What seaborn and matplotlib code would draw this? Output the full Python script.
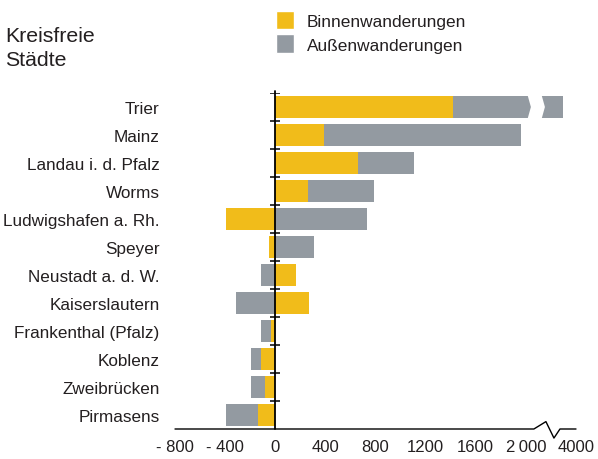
import numpy as np
import matplotlib
matplotlib.use("Agg")
import matplotlib.pyplot as plt
from matplotlib.patches import Patch, Polygon
import seaborn as sns

# data (persons)
cities = ["Trier", "Mainz", "Landau i. d. Pfalz", "Worms", "Ludwigshafen a. Rh.",
          "Speyer", "Neustadt a. d. W.", "Kaiserslautern", "Frankenthal (Pfalz)",
          "Koblenz", "Zweibrücken", "Pirmasens"]
binnen = [1420, 390, 660, 260, -395, -50, 165, 270, -35, -110, -80, -140]
aussen = [2080, 1570, 450, 525, 730, 310, -110, -315, -80, -85, -115, -255]

tick_values = [-800, -400, 0, 400, 800, 1200, 1600, 2000, 4000]
tick_labels = ["- 800", "- 400", "0", "400", "800", "1200", "1600", "2\u2009000", "4000"]

yellow = "#F1BC1A"
grey = "#939AA1"
text_col = "#231F20"

sns.set_style("white")
plt.rcParams["font.family"] = ["Liberation Sans", "DejaVu Sans"]

b = np.array(binnen)
a = np.array(aussen)
# grey bar continues the yellow one when both go the same way
grey_end = np.where(np.sign(a) == np.sign(b), a + b, a)

fig = plt.figure(figsize=(5.98, 4.6), dpi=100)
ax = fig.add_axes([175 / 598, 30 / 460, 401 / 598, 336 / 460])

sns.barplot(x=grey_end, y=cities, orient="h", color=grey, width=0.78,
            saturation=1, linewidth=0, ax=ax)
sns.barplot(x=b, y=cities, orient="h", color=yellow, width=0.78,
            saturation=1, linewidth=0, ax=ax)

# broken axis: everything above 2000 is squeezed by 5
def fwd(x):
    x = np.asarray(x, dtype=float)
    return np.where(x <= 2000, x, 2000 + (x - 2000) / 5)

def inv(x):
    x = np.asarray(x, dtype=float)
    return np.where(x <= 2000, x, 2000 + (x - 2000) * 5)

ax.set_xscale("function", functions=(fwd, inv))
ax.set_xlim(-800, 4000)
ax.set_ylim(len(cities) - 0.5, -0.5)
ax.set_xlabel("")
ax.set_ylabel("")

ax.set_xticks(tick_values)
ax.set_xticklabels(tick_labels)
ax.tick_params(axis="x", direction="out", length=4, width=1, color="black",
               pad=3.5, labelsize=12, labelcolor=text_col)
ax.tick_params(axis="y", length=0, pad=11, labelsize=12.3, labelcolor=text_col)
ax.xaxis.set_minor_locator(matplotlib.ticker.NullLocator())

for s in ["top", "right", "left", "bottom"]:
    ax.spines[s].set_visible(False)

# x axis line with break zigzag
trans = ax.get_xaxis_transform()
ax.plot([-800, 2320, 2800, 3120, 3360, 4000],
        [0, 0, 0.022, -0.027, 0, 0], color="black", lw=1,
        transform=trans, clip_on=False)

# zero line with category separators
ax.axvline(0, ymin=0, ymax=1.006, color="black", lw=1.3, clip_on=False, zorder=5)
ax.hlines(np.arange(-0.5, len(cities) - 1), -40, 40, color="black", lw=1.1, zorder=5)

# break on the Trier bar
ax.add_patch(Polygon([(2060, -0.45), (2200, 0), (2060, 0.45),
                      (2620, 0.45), (2760, 0), (2620, -0.45)],
                     closed=True, facecolor="white", edgecolor="none", zorder=6))

fig.text(5 / 598, 1 - 27 / 460, "Kreisfreie\nStädte", fontsize=15.3, color=text_col,
         va="top", ha="left", linespacing=1.3)

handles = [Patch(facecolor=yellow, label="Binnenwanderungen"),
           Patch(facecolor=grey, label="Außenwanderungen")]
fig.legend(handles=handles, loc="upper left", bbox_to_anchor=(260 / 598, 1 + 4 / 460),
           frameon=False, fontsize=12.4, handlelength=1.05, handleheight=1.3,
           handletextpad=0.75, labelspacing=0.3, labelcolor=text_col)

fig.savefig("out.png", dpi=100)
